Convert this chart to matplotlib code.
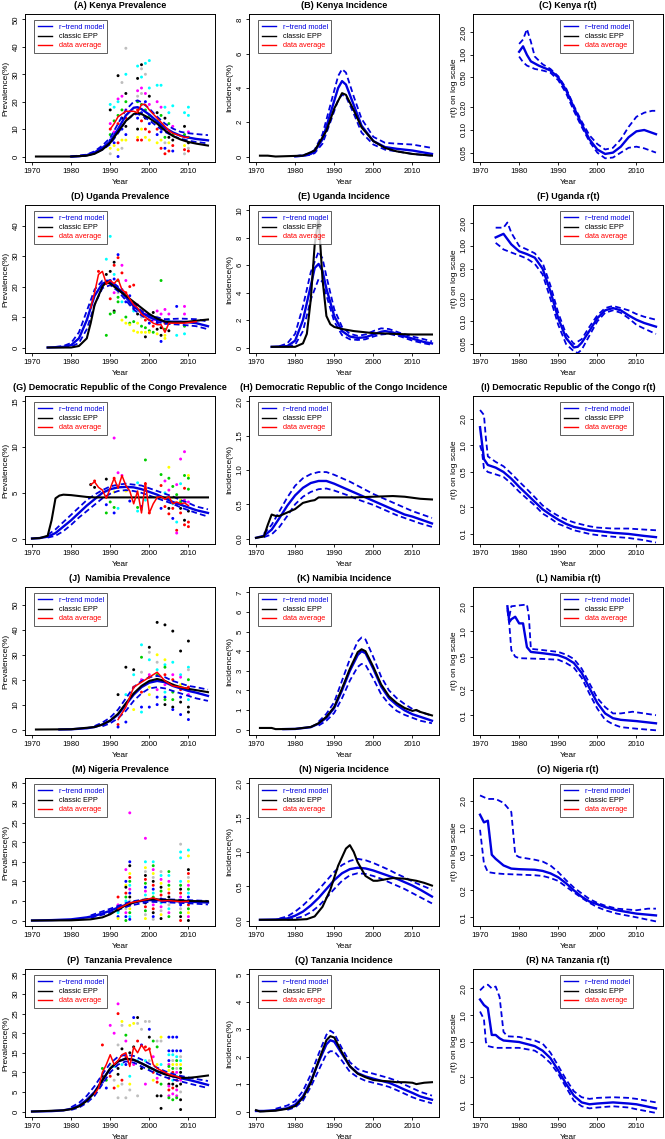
import numpy as np
import matplotlib.pyplot as plt
from matplotlib.lines import Line2D

plt.rcParams['font.family'] = ['Liberation Sans', 'DejaVu Sans']

# ---------------- Kenya ----------------
ken_prev_mean = [(1980,0.0),(1982,0.1),(1984,0.5),(1986,1.5),(1988,3.2),(1990,5.5),(1992,10),(1994,15),(1996,17.8),(1997,18),(1998,17.3),(2000,15.3),(2002,12.8),(2004,10.5),(2006,8.8),(2008,7.6),(2010,6.9),(2012,6.4),(2015,5.9)]
ken_prev_hi = [(1980,0.0),(1984,0.7),(1986,1.9),(1988,4.0),(1990,6.8),(1992,12),(1994,17),(1996,20),(1997,20.5),(1998,19.8),(2000,17.5),(2002,14.5),(2004,12),(2006,10.2),(2008,9.0),(2010,8.5),(2012,8.2),(2015,7.8)]
ken_prev_lo = [(1980,0.0),(1984,0.3),(1986,1.1),(1988,2.5),(1990,4.5),(1992,8.5),(1994,13),(1996,15.3),(1997,15.5),(1998,15),(2000,13.2),(2002,11),(2004,9),(2006,7.5),(2008,6.5),(2010,5.8),(2012,5.3),(2015,4.8)]
ken_prev_epp = [(1971,0),(1980,0),(1984,0.3),(1986,1.0),(1988,2.5),(1990,5),(1992,9),(1994,13),(1996,15.5),(1997,16),(1998,15.5),(2000,14),(2002,12),(2004,9.5),(2006,7.5),(2008,6.2),(2010,5.3),(2012,4.7),(2015,4.0)]
ken_prev_avg = [(1990,10),(1991,12),(1992,14.5),(1993,15.5),(1994,16.5),(1995,16.5),(1996,16.5),(1997,16),(1998,19),(1999,19),(2000,17),(2001,15.5),(2002,14),(2003,12.5),(2004,11),(2005,9.5),(2006,8.5),(2007,8),(2008,7.5),(2009,7),(2010,7)]
ken_pts = [(1990,19,'c'),(1990,17,'k'),(1990,12,'m'),(1990,10,'r'),(1990,8,'g'),(1990,6,'b'),(1990,3,'y'),(1990,1,'a'),
           (1991,18,'c'),(1991,13,'g'),(1991,9,'m'),(1991,5,'b'),(1991,4,'y'),
           (1992,29.5,'k'),(1992,21,'m'),(1992,20,'c'),(1992,15,'g'),(1992,12,'r'),(1992,9,'a'),(1992,5,'r'),(1992,2.5,'y'),(1992,0,'b'),
           (1993,27,'a'),(1993,22,'m'),(1993,17,'g'),(1993,14,'k'),(1993,10,'b'),(1993,6,'y'),(1993,3,'a'),
           (1994,39.5,'a'),(1994,30,'c'),(1994,23,'k'),(1994,20,'g'),(1994,17,'m'),(1994,14,'r'),(1994,11,'k'),(1994,8,'b'),(1994,6,'y'),
           (1997,33,'c'),(1997,28.5,'k'),(1997,24,'m'),(1997,22,'a'),(1997,20,'g'),(1997,17,'r'),(1997,14,'b'),(1997,10,'k'),(1997,7,'y'),(1997,6,'r'),
           (1998,33.5,'k'),(1998,32,'a'),(1998,29,'c'),(1998,25,'m'),(1998,23,'a'),(1998,19,'g'),(1998,16,'b'),(1998,13,'r'),(1998,10,'y'),(1998,6,'r'),
           (1999,34,'c'),(1999,30,'a'),(1999,23,'m'),(1999,20,'b'),(1999,17,'g'),(1999,14,'k'),(1999,10,'r'),(1999,7,'y'),
           (2000,35,'c'),(2000,25,'c'),(2000,22,'k'),(2000,19,'m'),(2000,15,'g'),(2000,12,'b'),(2000,9,'r'),(2000,6,'y'),
           (2002,26,'c'),(2002,20,'m'),(2002,16,'k'),(2002,13,'g'),(2002,10,'r'),(2002,8,'b'),(2002,5,'y'),
           (2003,26,'c'),(2003,18,'m'),(2003,15,'g'),(2003,11,'a'),(2003,9,'b'),(2003,6,'y'),(2003,3,'r'),
           (2004,18,'c'),(2004,14,'k'),(2004,10,'m'),(2004,7,'g'),(2004,5,'a'),(2004,3,'b'),(2004,1,'r'),
           (2005,16,'c'),(2005,12,'g'),(2005,9,'m'),(2005,7,'k'),(2005,5,'y'),(2005,2,'r'),
           (2006,18.5,'c'),(2006,11,'m'),(2006,8,'g'),(2006,6,'k'),(2006,4,'r'),(2006,2,'b'),
           (2009,16,'c'),(2009,11,'k'),(2009,8,'g'),(2009,6,'m'),(2009,4,'y'),(2009,2.5,'r'),(2009,1,'a'),
           (2010,18,'c'),(2010,15,'c'),(2010,9,'m'),(2010,7,'g'),(2010,5,'k'),(2010,3,'a'),(2010,2,'r')]
ken_inc_mean = [(1980,0.01),(1982,0.05),(1984,0.15),(1985,0.3),(1987,1.0),(1989,2.5),(1991,4.0),(1992,4.4),(1993,4.2),(1995,3.0),(1997,1.8),(2000,0.9),(2003,0.55),(2006,0.45),(2010,0.35),(2015,0.15)]
ken_inc_hi = [(1980,0.02),(1982,0.08),(1984,0.2),(1985,0.4),(1987,1.3),(1989,3.0),(1991,4.7),(1992,5.1),(1993,4.9),(1995,3.5),(1997,2.2),(2000,1.15),(2003,0.8),(2006,0.75),(2010,0.7),(2015,0.5)]
ken_inc_lo = [(1980,0.01),(1982,0.03),(1984,0.1),(1985,0.2),(1987,0.75),(1989,2.0),(1991,3.3),(1992,3.6),(1993,3.5),(1995,2.5),(1997,1.4),(2000,0.7),(2003,0.4),(2006,0.3),(2010,0.15),(2015,0.05)]
ken_inc_epp = [(1971,0.05),(1973,0.05),(1975,0.0),(1982,0.05),(1985,0.35),(1988,1.5),(1990,2.8),(1992,3.7),(1993,3.6),(1995,2.7),(1997,1.7),(2000,0.9),(2003,0.5),(2006,0.3),(2010,0.15),(2015,0.05)]
ken_rt_mean = [(1980,1.1),(1981,1.3),(1982,1.0),(1983,0.82),(1985,0.72),(1988,0.62),(1990,0.50),(1992,0.34),(1994,0.2),(1996,0.12),(1998,0.075),(2000,0.055),(2002,0.048),(2004,0.05),(2006,0.06),(2008,0.08),(2010,0.096),(2012,0.1),(2015,0.088)]
ken_rt_hi = [(1980,1.4),(1981,1.6),(1982,2.2),(1983,1.5),(1984,0.95),(1986,0.75),(1988,0.65),(1990,0.52),(1992,0.36),(1994,0.21),(1996,0.13),(1998,0.085),(2000,0.065),(2002,0.055),(2004,0.058),(2006,0.075),(2008,0.11),(2010,0.15),(2012,0.17),(2014,0.18),(2015,0.18)]
ken_rt_lo = [(1980,0.95),(1981,0.8),(1982,0.72),(1984,0.65),(1986,0.62),(1988,0.58),(1990,0.46),(1992,0.31),(1994,0.18),(1996,0.11),(1998,0.07),(2000,0.05),(2002,0.042),(2004,0.043),(2006,0.05),(2008,0.058),(2010,0.06),(2012,0.057),(2015,0.05)]

# ---------------- Uganda ----------------
uga_prev_mean = [(1974,0),(1978,0.2),(1980,0.8),(1982,3),(1984,9),(1985,13),(1986,17),(1988,21),(1989,21.5),(1990,21.5),(1992,19.5),(1994,16.5),(1996,13.5),(1998,11.5),(2000,10),(2002,9),(2004,8.5),(2006,8.5),(2008,8.5),(2010,8.3),(2012,8),(2015,7)]
uga_prev_hi = [(1976,0.2),(1978,0.5),(1980,1.5),(1982,5),(1984,12),(1986,19),(1988,22),(1990,22),(1992,20),(1994,17),(1996,14.5),(1998,12),(2000,10.5),(2004,9.3),(2008,9.5),(2012,9.3),(2015,8.5)]
uga_prev_lo = [(1978,0.1),(1980,0.3),(1982,1.5),(1984,6),(1986,14),(1988,19.5),(1990,20.5),(1992,18.5),(1994,15.5),(1996,12.5),(1998,10.5),(2000,9),(2004,7.8),(2008,7.5),(2012,7),(2015,6)]
uga_prev_epp = [(1974,0),(1980,0),(1982,0.5),(1984,3),(1985,8),(1986,14),(1988,20),(1989,21.5),(1990,21),(1992,19),(1994,17),(1996,15),(1998,13),(2000,11),(2002,9.5),(2004,8.5),(2006,8.3),(2008,8.3),(2010,8.5),(2012,8.8),(2015,9.2)]
uga_prev_avg = [(1985,13),(1986,18),(1987,24),(1988,25),(1989,21),(1990,22),(1991,21),(1992,22.5),(1993,19),(1994,18),(1995,16),(1996,14),(1997,13),(1998,11),(1999,10),(2000,9),(2001,8),(2002,7.5),(2003,7.5),(2004,5),(2005,8),(2007,8),(2009,8),(2012,8.5)]
uga_pts = [(1985,14,'g'),(1987,25,'r'),
           (1989,29,'c'),(1989,24,'k'),(1989,21,'r'),(1989,4,'g'),
           (1990,36.5,'c'),(1990,25,'k'),(1990,22,'b'),(1990,16,'r'),(1990,11,'g'),
           (1991,28,'k'),(1991,27,'r'),(1991,24,'c'),(1991,22.5,'b'),(1991,18,'m'),(1991,12,'k'),(1991,11.5,'g'),
           (1992,30.5,'b'),(1992,29.5,'r'),(1992,22,'g'),(1992,18,'a'),(1992,16.5,'g'),(1992,15,'g'),
           (1993,27,'m'),(1993,24.5,'r'),(1993,19,'b'),(1993,15,'c'),(1993,9,'y'),
           (1994,22,'m'),(1994,18,'r'),(1994,15,'b'),(1994,10,'g'),(1994,8,'y'),
           (1995,20,'r'),(1995,17,'b'),(1995,14,'a'),(1995,8,'g'),(1995,7.5,'y'),
           (1996,20.5,'r'),(1996,13,'b'),(1996,12,'c'),(1996,8.5,'g'),(1996,5.5,'y'),
           (1997,14,'m'),(1997,11,'k'),(1997,8,'y'),(1997,5,'y'),
           (1998,12,'r'),(1998,10,'a'),(1998,7,'g'),(1998,5,'y'),
           (1999,11,'m'),(1999,9,'r'),(1999,6.5,'g'),(1999,5,'y'),(1999,3.5,'k'),
           (2000,10,'m'),(2000,8,'b'),(2000,5.5,'g'),(2000,5,'y'),
           (2001,11.5,'k'),(2001,9,'m'),(2001,7,'r'),(2001,5,'g'),
           (2002,12,'m'),(2002,10,'a'),(2002,8,'b'),(2002,6,'k'),(2002,4.5,'y'),
           (2003,22,'g'),(2003,11,'m'),(2003,9,'r'),(2003,6.5,'k'),(2003,4,'k'),(2003,2,'b'),
           (2004,12.5,'m'),(2004,8,'r'),(2004,6,'g'),(2004,4,'y'),(2004,3,'y'),
           (2005,11,'m'),(2005,9,'c'),(2005,5.5,'k'),
           (2007,13.5,'b'),(2007,8,'m'),(2007,4,'c'),
           (2009,13.5,'m'),(2009,11,'m'),(2009,7,'g'),(2009,4.5,'c')]
uga_inc_mean = [(1974,0.05),(1978,0.1),(1980,0.5),(1982,2),(1984,4.5),(1985,5.8),(1986,6.1),(1987,5.6),(1988,4.3),(1990,2.3),(1992,1.2),(1994,0.8),(1996,0.7),(1998,0.75),(2000,0.95),(2002,1.15),(2003,1.2),(2005,1.1),(2007,0.9),(2010,0.65),(2013,0.4),(2015,0.3)]
uga_inc_hi = [(1976,0.1),(1978,0.3),(1980,1.0),(1982,3.0),(1984,5.5),(1986,7.0),(1987,6.5),(1988,5.2),(1990,2.8),(1992,1.5),(1994,1.0),(1996,0.85),(1998,0.95),(2000,1.2),(2002,1.4),(2004,1.35),(2007,1.05),(2010,0.8),(2013,0.6),(2015,0.45)]
uga_inc_lo = [(1978,0.05),(1980,0.2),(1982,1.2),(1984,3.5),(1986,5.0),(1987,4.8),(1988,3.8),(1990,1.9),(1992,0.9),(1994,0.6),(1996,0.55),(1998,0.6),(2000,0.8),(2002,0.95),(2004,1.0),(2007,0.8),(2010,0.5),(2013,0.3),(2015,0.2)]
uga_inc_epp = [(1974,0.05),(1980,0.05),(1982,0.3),(1983,1.0),(1984,3.5),(1985,7.5),(1986,9.5),(1987,5),(1988,2.3),(1989,1.7),(1990,1.5),(1992,1.35),(1995,1.2),(2000,1.05),(2005,1.0),(2010,0.95),(2015,0.95)]
uga_rt_mean = [(1974,1.3),(1976,1.45),(1978,1.05),(1980,0.85),(1982,0.78),(1984,0.7),(1986,0.5),(1988,0.25),(1990,0.11),(1992,0.06),(1994,0.045),(1995,0.046),(1996,0.052),(1998,0.075),(2000,0.11),(2002,0.14),(2004,0.15),(2006,0.14),(2008,0.12),(2010,0.105),(2012,0.095),(2015,0.085)]
uga_rt_hi = [(1974,1.75),(1976,1.75),(1977,2.05),(1978,1.5),(1980,1.0),(1982,0.9),(1984,0.8),(1986,0.6),(1988,0.3),(1990,0.13),(1992,0.068),(1994,0.05),(1996,0.058),(1998,0.085),(2000,0.12),(2002,0.15),(2004,0.16),(2006,0.15),(2008,0.14),(2010,0.125),(2012,0.115),(2015,0.105)]
uga_rt_lo = [(1974,1.1),(1975,1.0),(1976,0.9),(1978,0.82),(1980,0.75),(1982,0.68),(1984,0.58),(1986,0.42),(1988,0.2),(1990,0.09),(1992,0.05),(1994,0.04),(1995,0.038),(1996,0.042),(1998,0.065),(2000,0.1),(2002,0.13),(2004,0.14),(2006,0.13),(2008,0.11),(2010,0.09),(2012,0.08),(2015,0.068)]

# ---------------- DR Congo ----------------
drc_prev_mean = [(1970,0),(1972,0.05),(1974,0.2),(1976,0.6),(1978,1.3),(1980,2.0),(1982,2.8),(1984,3.6),(1986,4.3),(1988,5.0),(1990,5.4),(1992,5.6),(1994,5.65),(1996,5.6),(1998,5.4),(2000,5.1),(2002,4.8),(2004,4.4),(2006,4.0),(2008,3.7),(2010,3.4),(2012,3.1),(2015,2.8)]
drc_prev_hi = [(1974,0.4),(1976,1.0),(1978,1.8),(1980,2.6),(1982,3.4),(1984,4.2),(1986,4.8),(1988,5.3),(1990,5.7),(1992,5.9),(1994,6.0),(1996,5.9),(1998,5.8),(2000,5.5),(2002,5.2),(2004,4.9),(2006,4.6),(2008,4.2),(2010,3.9),(2012,3.5),(2015,3.2)]
drc_prev_lo = [(1974,0.1),(1976,0.3),(1978,0.8),(1980,1.5),(1982,2.3),(1984,3.0),(1986,3.7),(1988,4.4),(1990,4.9),(1992,5.2),(1994,5.3),(1996,5.2),(1998,5.0),(2000,4.7),(2002,4.4),(2004,4.1),(2006,3.8),(2008,3.4),(2010,3.1),(2012,2.8),(2015,2.4)]
drc_prev_epp = [(1970,0),(1972,0.05),(1974,0.3),(1975,2),(1976,4.4),(1977,4.7),(1978,4.8),(1980,4.75),(1982,4.65),(1984,4.55),(1986,4.5),(1990,4.5),(2015,4.5)]
drc_prev_avg = [(1985,5.9),(1986,6.2),(1987,5.6),(1988,5.3),(1989,4.4),(1990,5.5),(1991,6.6),(1992,5.5),(1993,6.9),(1994,5.8),(1995,5.2),(1996,3.8),(1997,5.2),(1998,2.8),(1999,6.1),(2000,2.8),(2001,3.8),(2002,4.5),(2003,4.6),(2004,4.3),(2005,4.6),(2006,3.8),(2007,4.0),(2008,3.8),(2009,3.9),(2010,3.6)]
drc_pts = [(1985,5.9,'k'),(1986,6.3,'r'),(1986,5.6,'k'),
           (1989,6.5,'k'),(1989,3.7,'b'),(1989,2.8,'g'),(1990,4.0,'g'),
           (1991,11,'m'),(1991,6.6,'r'),(1991,5.1,'y'),(1991,3.4,'g'),(1991,2.8,'b'),
           (1992,7.2,'m'),(1992,3.3,'c'),(1993,6.9,'m'),(1994,5.2,'y'),(1995,4.1,'b'),
           (1997,6.1,'c'),(1997,3.4,'g'),(1997,3.0,'c'),(1998,3.5,'b'),(1998,3.2,'c'),
           (1999,8.6,'g'),(1999,6.0,'r'),(1999,4.2,'c'),(2000,2.8,'r'),
           (2003,7.0,'g'),(2003,5.8,'r'),(2003,3.3,'b'),
           (2004,6.3,'m'),(2004,5.0,'c'),(2004,3.5,'r'),
           (2005,7.8,'y'),(2005,6.6,'g'),(2005,5.3,'m'),(2005,4.5,'c'),(2005,3.3,'k'),(2005,2.7,'r'),
           (2006,5.7,'g'),(2006,4.5,'y'),(2006,3.8,'c'),(2006,3.3,'r'),(2006,2.2,'b'),
           (2007,5.9,'m'),(2007,4.8,'g'),(2007,3.8,'r'),(2007,1.8,'c'),(2007,0.9,'r'),(2007,0.6,'m'),
           (2008,8.7,'m'),(2008,6.0,'c'),(2008,4.2,'y'),(2008,4.0,'g'),(2008,3.3,'k'),(2008,2.8,'r'),
           (2009,9.5,'m'),(2009,6.9,'g'),(2009,5.5,'r'),(2009,4.2,'m'),(2009,2.0,'k'),(2009,1.5,'r'),
           (2010,6.9,'y'),(2010,6.6,'g'),(2010,5.4,'g'),(2010,4.0,'m'),(2010,3.0,'k'),(2010,1.8,'r'),(2010,1.3,'r')]
drc_inc_mean = [(1970,0.01),(1972,0.04),(1974,0.13),(1976,0.3),(1978,0.48),(1980,0.63),(1982,0.74),(1984,0.81),(1986,0.84),(1988,0.84),(1990,0.8),(1992,0.75),(1994,0.7),(1996,0.65),(1998,0.6),(2000,0.55),(2002,0.5),(2004,0.45),(2006,0.4),(2008,0.35),(2010,0.32),(2012,0.28),(2015,0.22)]
drc_inc_hi = [(1972,0.07),(1974,0.2),(1976,0.4),(1978,0.6),(1980,0.77),(1982,0.88),(1984,0.94),(1986,0.97),(1988,0.97),(1990,0.93),(1992,0.88),(1994,0.83),(1996,0.77),(1998,0.71),(2000,0.65),(2002,0.6),(2004,0.55),(2006,0.5),(2008,0.45),(2010,0.4),(2012,0.36),(2015,0.3)]
drc_inc_lo = [(1972,0.02),(1974,0.06),(1976,0.17),(1978,0.33),(1980,0.5),(1982,0.61),(1984,0.68),(1986,0.72),(1988,0.73),(1990,0.7),(1992,0.66),(1994,0.62),(1996,0.57),(1998,0.53),(2000,0.49),(2002,0.44),(2004,0.39),(2006,0.34),(2008,0.3),(2010,0.26),(2012,0.22),(2015,0.17)]
drc_inc_epp = [(1970,0.01),(1972,0.03),(1973,0.2),(1974,0.35),(1975,0.33),(1976,0.33),(1978,0.38),(1980,0.43),(1982,0.52),(1984,0.55),(1985,0.56),(1986,0.6),(1988,0.6),(1995,0.6),(2000,0.61),(2005,0.62),(2008,0.61),(2012,0.58),(2015,0.57)]
drc_rt_mean = [(1970,1.6),(1971,0.7),(1972,0.6),(1974,0.56),(1976,0.5),(1978,0.42),(1980,0.34),(1982,0.28),(1984,0.23),(1986,0.19),(1988,0.165),(1990,0.145),(1992,0.13),(1994,0.12),(1996,0.115),(1998,0.11),(2000,0.108),(2004,0.103),(2008,0.1),(2012,0.095),(2015,0.092)]
drc_rt_hi = [(1970,2.5),(1971,2.2),(1971.5,1.2),(1972,0.75),(1974,0.65),(1976,0.58),(1978,0.48),(1980,0.39),(1982,0.32),(1984,0.26),(1986,0.21),(1988,0.18),(1990,0.16),(1992,0.145),(1994,0.135),(1996,0.128),(1998,0.122),(2000,0.118),(2004,0.115),(2008,0.115),(2012,0.112),(2015,0.11)]
drc_rt_lo = [(1970,1.0),(1970.5,0.85),(1971,0.55),(1972,0.5),(1974,0.47),(1976,0.44),(1978,0.37),(1980,0.3),(1982,0.25),(1984,0.21),(1986,0.17),(1988,0.15),(1990,0.13),(1992,0.12),(1994,0.11),(1996,0.105),(1998,0.1),(2000,0.097),(2004,0.093),(2008,0.09),(2012,0.085),(2015,0.08)]

# ---------------- Namibia ----------------
nam_prev_mean = [(1977,0),(1980,0.1),(1984,0.5),(1986,1.0),(1988,2.0),(1990,3.5),(1992,6),(1994,10),(1996,14),(1998,17),(2000,18.8),(2002,19.5),(2004,19),(2006,17.5),(2008,16.5),(2010,15.5),(2012,14.8),(2015,13.5)]
nam_prev_hi = [(1986,1.4),(1988,2.8),(1990,4.8),(1992,8),(1994,12.5),(1996,17),(1998,19.5),(2000,21),(2002,21.5),(2004,21),(2006,19.5),(2008,18.5),(2010,17.5),(2012,17),(2015,16)]
nam_prev_lo = [(1988,1.3),(1990,2.5),(1992,4.5),(1994,7.5),(1996,11.5),(1998,14.5),(2000,16.5),(2002,17),(2004,16.5),(2006,15.5),(2008,14.5),(2010,13.5),(2012,12.5),(2015,11.5)]
nam_prev_epp = [(1971,0),(1980,0.1),(1986,1.0),(1988,2.0),(1990,3.6),(1992,6.3),(1994,10.5),(1996,14.5),(1998,17.5),(2000,19.5),(2002,20.3),(2004,19.5),(2006,18),(2008,17),(2010,16.3),(2012,15.8),(2015,15)]
nam_prev_avg = [(1992,4),(1994,9),(1996,17),(1998,19),(2000,21),(2002,23),(2004,19.5),(2006,17.5),(2008,17.0),(2010,16.5)]
nam_pts = [(1992,14,'k'),(1992,2,'r'),(1992,1,'b'),
           (1994,25,'k'),(1994,14,'c'),(1994,3,'b'),
           (1996,24,'k'),(1996,22,'c'),(1996,17,'r'),(1996,8,'y'),
           (1998,34,'c'),(1998,29,'g'),(1998,23,'a'),(1998,20,'m'),(1998,15,'r'),(1998,9,'b'),(1998,7,'c'),
           (2000,33,'k'),(2000,31,'a'),(2000,28,'c'),(2000,22,'m'),(2000,21,'r'),(2000,17,'y'),(2000,14,'y'),(2000,9,'b'),
           (2002,43,'k'),(2002,30,'y'),(2002,27,'a'),(2002,24,'c'),(2002,22,'g'),(2002,20,'r'),(2002,16,'m'),(2002,13,'b'),(2002,10,'b'),
           (2004,42,'k'),(2004,28,'y'),(2004,26,'c'),(2004,25,'g'),(2004,22,'r'),(2004,18,'m'),(2004,15,'c'),(2004,13,'b'),(2004,12,'g'),(2004,10,'k'),
           (2006,39.5,'k'),(2006,27,'c'),(2006,22,'m'),(2006,20,'r'),(2006,18,'a'),(2006,15,'g'),(2006,12,'g'),(2006,9,'k'),(2006,8,'b'),
           (2008,31.5,'k'),(2008,22,'c'),(2008,21,'m'),(2008,18,'y'),(2008,16,'r'),(2008,13,'b'),(2008,11,'k'),(2008,6,'b'),
           (2010,35.5,'k'),(2010,25,'c'),(2010,24,'a'),(2010,20,'g'),(2010,17,'r'),(2010,14,'m'),(2010,12,'c'),(2010,9,'k'),(2010,7,'k'),(2010,4,'b')]
nam_inc_mean = [(1977,0.02),(1980,0.03),(1984,0.12),(1986,0.3),(1988,0.6),(1990,1.1),(1992,2.0),(1994,3.0),(1996,3.8),(1997,4.0),(1998,3.9),(2000,3.1),(2002,2.2),(2004,1.6),(2006,1.25),(2008,0.98),(2010,0.78),(2012,0.65),(2015,0.45)]
nam_inc_hi = [(1986,0.4),(1988,0.8),(1990,1.4),(1992,2.5),(1994,3.6),(1996,4.5),(1997,4.7),(1998,4.6),(2000,3.7),(2002,2.7),(2004,2.0),(2006,1.6),(2008,1.3),(2010,1.05),(2012,0.9),(2015,0.7)]
nam_inc_lo = [(1986,0.2),(1988,0.45),(1990,0.85),(1992,1.6),(1994,2.5),(1996,3.2),(1997,3.35),(1998,3.3),(2000,2.6),(2002,1.8),(2004,1.3),(2006,0.95),(2008,0.75),(2010,0.6),(2012,0.45),(2015,0.32)]
nam_inc_epp = [(1971,0.08),(1974,0.08),(1975,0.02),(1980,0.03),(1984,0.13),(1986,0.32),(1988,0.65),(1990,1.15),(1992,2.1),(1994,3.1),(1996,3.95),(1997,4.1),(1998,4.0),(2000,3.2),(2002,2.3),(2004,1.7),(2006,1.35),(2008,1.1),(2010,0.95),(2011,1.0),(2012,0.9),(2015,0.72)]
nam_rt_mean = [(1977,2.0),(1977.5,1.3),(1978,1.4),(1979,1.5),(1980,1.25),(1981,1.25),(1982,0.65),(1983,0.57),(1986,0.55),(1990,0.52),(1992,0.48),(1994,0.42),(1996,0.32),(1998,0.21),(2000,0.14),(2002,0.105),(2004,0.092),(2006,0.088),(2010,0.085),(2015,0.08)]
nam_rt_hi = [(1977,1.9),(1977.5,1.5),(1978,2.0),(1980,2.05),(1982,2.1),(1982.5,1.5),(1983,0.62),(1986,0.6),(1990,0.57),(1992,0.53),(1994,0.47),(1996,0.36),(1998,0.24),(2000,0.16),(2002,0.125),(2004,0.105),(2006,0.105),(2009,0.11),(2012,0.105),(2015,0.1)]
nam_rt_lo = [(1977,1.8),(1977.5,1.2),(1978,0.6),(1979,0.5),(1980,0.48),(1986,0.47),(1990,0.46),(1992,0.42),(1994,0.37),(1996,0.28),(1998,0.18),(2000,0.12),(2002,0.088),(2004,0.078),(2006,0.072),(2010,0.069),(2015,0.066)]

# ---------------- Nigeria ----------------
nga_prev_mean = [(1970,0),(1975,0.1),(1980,0.3),(1984,0.8),(1986,1.2),(1988,1.8),(1990,2.5),(1992,3.3),(1994,4.0),(1996,4.6),(1998,5.0),(2000,5.2),(2002,5.2),(2005,5.0),(2010,4.8),(2015,4.6)]
nga_prev_hi = [(1985,1.3),(1990,3.0),(1995,4.8),(2000,5.6),(2005,5.4),(2010,5.2),(2015,5.0)]
nga_prev_lo = [(1985,0.7),(1990,2.0),(1995,3.8),(2000,4.8),(2005,4.6),(2010,4.4),(2015,4.1)]
nga_prev_epp = [(1970,0),(1980,0.05),(1985,0.3),(1988,0.8),(1990,1.6),(1992,2.8),(1994,3.9),(1996,4.6),(1998,5.1),(2000,5.4),(2002,5.4),(2005,5.2),(2010,5.0),(2015,4.9)]
nga_prev_avg = [(1992,3),(1994,4),(1995,4.5),(1999,5.3),(2001,5.8),(2003,5.0),(2005,5.1),(2008,4.8),(2010,4.9)]
nga_pts = [(1992,6,'r'),(1992,4,'m'),(1992,3.5,'m'),(1992,3,'g'),(1992,2.5,'k'),(1992,2,'c'),(1992,1,'b'),(1992,0.5,'y'),
           (1994,13,'m'),(1994,10,'b'),(1994,9,'y'),(1994,8.5,'k'),(1994,7,'r'),(1994,6,'g'),(1994,5,'c'),(1994,4,'y'),(1994,3,'a'),(1994,2,'m'),(1994,1,'b'),(1994,0,'g'),
           (1995,27.5,'m'),(1995,15,'b'),(1995,14,'k'),(1995,12,'y'),(1995,11,'r'),(1995,10,'g'),(1995,9,'c'),(1995,8,'m'),(1995,7,'b'),(1995,6,'k'),(1995,5,'a'),(1995,4,'r'),(1995,3,'y'),(1995,2,'g'),(1995,1,'c'),(1995,0.3,'b'),
           (1999,21,'m'),(1999,15,'c'),(1999,13.5,'y'),(1999,12.5,'a'),(1999,11.5,'k'),(1999,10.5,'r'),(1999,9.5,'g'),(1999,8.5,'b'),(1999,7.5,'m'),(1999,6.5,'c'),(1999,5.5,'y'),(1999,4.5,'k'),(1999,3.5,'r'),(1999,2.5,'g'),(1999,1.5,'a'),(1999,0.5,'y'),
           (2001,15,'c'),(2001,14,'g'),(2001,13,'m'),(2001,12,'y'),(2001,11,'a'),(2001,10,'k'),(2001,9,'r'),(2001,8,'b'),(2001,7,'c'),(2001,6,'g'),(2001,5,'y'),(2001,4,'m'),(2001,3,'r'),(2001,2,'k'),(2001,1,'b'),(2001,0.3,'a'),
           (2003,12.5,'a'),(2003,11.5,'c'),(2003,10.5,'m'),(2003,9.5,'y'),(2003,8.5,'k'),(2003,7.5,'g'),(2003,6.5,'r'),(2003,5.5,'b'),(2003,4.5,'c'),(2003,3.5,'m'),(2003,2.5,'a'),(2003,1.5,'y'),(2003,0.5,'k'),
           (2005,12.5,'g'),(2005,11.5,'c'),(2005,10,'m'),(2005,9,'g'),(2005,8,'y'),(2005,7,'r'),(2005,6,'k'),(2005,5,'b'),(2005,4,'a'),(2005,3,'c'),(2005,2,'m'),(2005,1,'g'),
           (2008,19.5,'a'),(2008,17.5,'c'),(2008,16,'c'),(2008,10,'c'),(2008,9,'g'),(2008,8,'k'),(2008,7,'r'),(2008,6,'m'),(2008,5,'y'),(2008,4,'b'),(2008,3,'a'),(2008,2,'g'),(2008,1,'k'),(2008,0,'r'),
           (2010,18,'c'),(2010,16.5,'y'),(2010,13,'k'),(2010,12,'r'),(2010,11,'a'),(2010,10,'y'),(2010,9,'m'),(2010,8,'g'),(2010,7,'c'),(2010,6,'b'),(2010,5,'k'),(2010,4,'r'),(2010,3,'g'),(2010,2,'y'),(2010,1,'m'),(2010,0,'k')]
nga_inc_mean = [(1971,0.01),(1975,0.015),(1978,0.03),(1980,0.07),(1982,0.13),(1984,0.22),(1986,0.33),(1988,0.46),(1990,0.59),(1992,0.69),(1994,0.75),(1996,0.77),(1998,0.76),(2000,0.73),(2002,0.69),(2004,0.65),(2006,0.61),(2008,0.56),(2010,0.51),(2012,0.45),(2015,0.35)]
nga_inc_hi = [(1976,0.03),(1978,0.06),(1980,0.13),(1982,0.22),(1984,0.33),(1986,0.45),(1988,0.58),(1990,0.71),(1992,0.81),(1994,0.87),(1996,0.9),(1998,0.88),(2000,0.84),(2002,0.79),(2004,0.74),(2006,0.68),(2008,0.63),(2010,0.57),(2012,0.52),(2015,0.45)]
nga_inc_lo = [(1978,0.01),(1980,0.03),(1982,0.06),(1984,0.12),(1986,0.21),(1988,0.33),(1990,0.46),(1992,0.58),(1994,0.66),(1996,0.69),(1998,0.68),(2000,0.65),(2002,0.61),(2004,0.56),(2006,0.51),(2008,0.46),(2010,0.4),(2012,0.34),(2015,0.25)]
nga_inc_epp = [(1971,0.01),(1980,0.01),(1983,0.02),(1985,0.06),(1987,0.2),(1989,0.45),(1991,0.8),(1993,1.05),(1994,1.1),(1995,1.0),(1996,0.85),(1998,0.65),(2000,0.58),(2001,0.58),(2003,0.6),(2005,0.62),(2008,0.61),(2011,0.58),(2013,0.55),(2015,0.51)]
nga_rt_mean = [(1970,1.4),(1971,1.15),(1972,1.2),(1973,0.5),(1974,0.45),(1976,0.38),(1978,0.35),(1980,0.345),(1984,0.34),(1986,0.33),(1988,0.31),(1990,0.28),(1992,0.24),(1994,0.2),(1996,0.17),(1998,0.15),(2000,0.14),(2002,0.13),(2005,0.12),(2010,0.11),(2015,0.105)]
nga_rt_hi = [(1970,2.3),(1972,2.1),(1974,2.1),(1976,1.9),(1978,1.5),(1979,0.5),(1980,0.47),(1984,0.44),(1986,0.42),(1988,0.38),(1990,0.32),(1992,0.26),(1994,0.215),(1996,0.185),(1998,0.16),(2000,0.145),(2002,0.135),(2005,0.125),(2010,0.12),(2013,0.125),(2015,0.125)]
nga_rt_lo = [(1970,0.95),(1971,0.4),(1972,0.32),(1974,0.31),(1976,0.305),(1980,0.3),(1984,0.295),(1986,0.29),(1988,0.275),(1990,0.255),(1992,0.22),(1994,0.19),(1996,0.165),(1998,0.145),(2000,0.13),(2002,0.12),(2005,0.11),(2010,0.1),(2015,0.09)]

# ---------------- Tanzania ----------------
tza_prev_mean = [(1970,0),(1975,0.1),(1978,0.3),(1980,0.7),(1982,1.5),(1984,3),(1986,5),(1988,8),(1990,11),(1992,12.8),(1994,13.5),(1996,13.2),(1998,12.3),(2000,11.3),(2002,10.3),(2004,9.6),(2006,9.0),(2008,8.5),(2010,8.1),(2012,7.6),(2015,6.8)]
tza_prev_hi = [(1980,1.1),(1982,2.2),(1984,4),(1986,6.5),(1988,9.5),(1990,12.3),(1992,14),(1994,14.5),(1996,14.2),(1998,13.3),(2000,12.2),(2002,11.2),(2004,10.3),(2006,9.6),(2008,9.1),(2010,8.7),(2012,8.3),(2015,7.8)]
tza_prev_lo = [(1980,0.4),(1982,1.0),(1984,2.2),(1986,4),(1988,7),(1990,10),(1992,12),(1994,12.8),(1996,12.5),(1998,11.5),(2000,10.5),(2002,9.6),(2004,8.8),(2006,8.2),(2008,7.7),(2010,7.2),(2012,6.7),(2015,6.0)]
tza_prev_epp = [(1970,0),(1978,0.3),(1980,0.6),(1982,1.3),(1984,2.7),(1986,4.8),(1988,8),(1990,11),(1992,12.8),(1994,13.5),(1996,13.2),(1998,12.3),(2000,11.3),(2002,10.3),(2004,9.5),(2006,9.0),(2008,8.6),(2010,8.6),(2012,8.8),(2015,9.2)]
tza_prev_avg = [(1986,4.5),(1987,6),(1988,10),(1989,12),(1990,14.5),(1991,12),(1992,13),(1993,14.5),(1994,15),(1995,11.5),(1996,16.5),(1997,15),(1998,17),(1999,15.5),(2000,16),(2001,12),(2002,11),(2003,10.5),(2004,10),(2005,9.5),(2006,9.2),(2007,9),(2008,8.5)]
tza_pts = [(1988,17,'r'),(1988,11,'g'),(1988,9,'k'),(1988,7.5,'b'),(1989,8,'g'),(1989,6,'b'),
           (1990,22,'m'),(1990,12,'y'),(1990,9,'r'),(1991,20,'m'),(1991,11.5,'c'),(1991,8,'a'),(1991,6,'r'),
           (1992,27.5,'m'),(1992,25,'r'),(1992,17,'a'),(1992,11,'k'),(1992,9.5,'k'),(1992,6.5,'y'),(1992,3.5,'a'),
           (1993,23,'y'),(1993,22,'a'),(1993,16,'k'),(1993,12,'c'),(1993,8,'r'),(1993,7,'a'),
           (1994,19.5,'g'),(1994,18,'m'),(1994,14,'r'),(1994,12,'b'),(1994,3.5,'a'),
           (1995,22,'y'),(1995,15,'k'),(1995,9,'c'),(1995,7,'y'),(1995,5.5,'a'),
           (1996,24,'b'),(1996,22.5,'y'),(1996,16.5,'k'),(1996,12,'m'),
           (1997,24,'k'),(1997,22.5,'a'),(1997,18,'r'),(1997,13,'c'),(1997,4,'a'),
           (1998,21,'a'),(1998,17,'b'),(1998,11,'k'),
           (1999,23,'a'),(1999,16.5,'r'),(1999,13,'c'),(1999,7,'m'),
           (2000,23,'a'),(2000,21,'b'),(2000,19,'k'),(2000,16,'r'),(2000,13,'a'),(2000,11,'g'),
           (2001,18,'g'),(2001,14,'m'),(2001,10,'r'),(2001,8,'y'),
           (2002,18,'a'),(2002,16.5,'g'),(2002,12,'y'),(2002,10,'c'),(2002,8.5,'m'),(2002,7.5,'r'),(2002,4,'k'),
           (2003,19,'y'),(2003,18,'a'),(2003,12,'c'),(2003,10,'r'),(2003,7,'g'),(2003,4,'k'),(2003,0.8,'k'),
           (2005,19,'b'),(2005,15.5,'b'),(2005,14.5,'c'),(2005,13,'b'),(2005,12,'m'),(2005,11.5,'g'),(2005,10.5,'y'),(2005,9.5,'a'),(2005,8.5,'r'),(2005,7,'k'),(2005,6.5,'m'),(2005,5.5,'r'),(2005,4,'m'),(2005,3.5,'g'),
           (2006,19,'b'),(2006,15.5,'b'),(2006,14.5,'c'),(2006,13,'a'),(2006,12,'y'),(2006,11,'g'),(2006,10,'r'),(2006,9,'m'),(2006,8,'c'),(2006,7,'k'),(2006,6,'r'),(2006,4.5,'m'),(2006,3,'g'),
           (2007,19,'b'),(2007,15.5,'b'),(2007,14,'c'),(2007,13,'g'),(2007,12,'y'),(2007,11,'a'),(2007,10,'m'),(2007,9,'c'),(2007,8,'r'),(2007,6.5,'k'),(2007,5.5,'m'),(2007,4,'m'),(2007,3.5,'g'),
           (2008,15.5,'b'),(2008,14,'a'),(2008,13,'c'),(2008,12,'y'),(2008,11,'g'),(2008,10,'k'),(2008,9,'r'),(2008,8,'m'),(2008,7,'k'),(2008,5,'a'),(2008,3,'k'),(2008,0.5,'k')]
tza_inc_mean = [(1970,0.02),(1972,0.02),(1975,0.05),(1978,0.12),(1980,0.25),(1982,0.55),(1984,1.1),(1986,1.8),(1988,2.45),(1989,2.6),(1990,2.55),(1992,2.1),(1994,1.65),(1996,1.4),(1998,1.28),(2000,1.2),(2002,1.12),(2004,1.05),(2006,0.93),(2008,0.8),(2010,0.68),(2012,0.55),(2015,0.43)]
tza_inc_hi = [(1975,0.1),(1978,0.22),(1980,0.38),(1982,0.75),(1984,1.35),(1986,2.1),(1988,2.8),(1989,2.95),(1990,2.85),(1992,2.3),(1994,1.8),(1996,1.55),(1998,1.45),(2000,1.38),(2002,1.3),(2004,1.22),(2006,1.12),(2008,0.98),(2010,0.85),(2012,0.72),(2015,0.58)]
tza_inc_lo = [(1978,0.06),(1980,0.15),(1982,0.4),(1984,0.9),(1986,1.5),(1988,2.1),(1989,2.2),(1990,2.2),(1992,1.85),(1994,1.45),(1996,1.25),(1998,1.12),(2000,1.05),(2002,0.98),(2004,0.9),(2006,0.78),(2008,0.65),(2010,0.52),(2012,0.42),(2015,0.3)]
tza_inc_epp = [(1970,0.05),(1971,0.0),(1975,0.03),(1978,0.1),(1980,0.2),(1982,0.5),(1984,1.05),(1986,1.85),(1988,2.6),(1989,2.75),(1990,2.7),(1992,2.15),(1994,1.65),(1996,1.38),(1998,1.25),(2000,1.15),(2002,1.12),(2004,1.1),(2006,1.07),(2008,1.07),(2010,1.05),(2011,1.0),(2013,1.05),(2015,1.07)]
tza_rt_mean = [(1970,1.5),(1971,1.3),(1972,1.2),(1973,0.6),(1974,0.6),(1975,0.55),(1976,0.52),(1980,0.5),(1984,0.45),(1986,0.4),(1988,0.33),(1990,0.24),(1992,0.17),(1994,0.125),(1996,0.105),(1998,0.1),(2000,0.102),(2004,0.105),(2008,0.102),(2010,0.1),(2015,0.09)]
tza_rt_hi = [(1970,1.9),(1971,2.1),(1972,2.2),(1973,2.0),(1974,2.1),(1975,1.6),(1976,0.65),(1977,0.58),(1980,0.57),(1984,0.52),(1986,0.48),(1988,0.38),(1990,0.27),(1992,0.19),(1994,0.14),(1996,0.12),(1998,0.115),(2000,0.118),(2004,0.12),(2008,0.118),(2010,0.115),(2015,0.105)]
tza_rt_lo = [(1970,1.1),(1971,0.9),(1971.5,0.5),(1972,0.45),(1974,0.43),(1976,0.43),(1980,0.43),(1984,0.4),(1986,0.35),(1988,0.29),(1990,0.22),(1992,0.155),(1994,0.11),(1996,0.095),(1998,0.09),(2000,0.092),(2004,0.095),(2008,0.092),(2010,0.088),(2015,0.08)]

# panel titles / axis ranges
prev_titles = ['(A) Kenya Prevalence', '(D) Uganda Prevalence', '(G) Democratic Republic of the Congo Prevalence',
               '(J)  Namibia Prevalence', '(M) Nigeria Prevalence', '(P)  Tanzania Prevalence']
inc_titles = ['(B) Kenya Incidence', '(E) Uganda Incidence', '(H) Democratic Republic of the Congo Incidence',
              '(K) Namibia Incidence', '(N) Nigeria Incidence', '(Q) Tanzania Incidence']
rt_titles = ['(C) Kenya r(t)', '(F) Uganda r(t)', '(I) Democratic Republic of the Congo r(t)',
             '(L) Namibia r(t)', '(O) Nigeria r(t)', '(R) NA Tanzania r(t)']
prev_ymax = [50, 45, 15, 55, 35, 35]
prev_ticks = [np.arange(0, 51, 10), np.arange(0, 41, 10), np.arange(0, 16, 5),
              np.arange(0, 51, 10), np.arange(0, 36, 5), np.arange(0, 36, 5)]
inc_ymax = [8, 10, 2, 7, 2, 5]
inc_ticks = [np.arange(0, 9, 2), np.arange(0, 11, 2), np.arange(0, 2.01, 0.5),
             np.arange(0, 8, 1), np.arange(0, 2.01, 0.5), np.arange(0, 6, 1)]
rt_ylim = [(0.0375, 3.5), (0.038, 3.5), (0.077, 3.6), (0.058, 3.4), (0.08, 3.6), (0.072, 3.3)]

prev_sets = [(ken_prev_mean, ken_prev_hi, ken_prev_lo, ken_prev_epp, ken_prev_avg, ken_pts),
             (uga_prev_mean, uga_prev_hi, uga_prev_lo, uga_prev_epp, uga_prev_avg, uga_pts),
             (drc_prev_mean, drc_prev_hi, drc_prev_lo, drc_prev_epp, drc_prev_avg, drc_pts),
             (nam_prev_mean, nam_prev_hi, nam_prev_lo, nam_prev_epp, nam_prev_avg, nam_pts),
             (nga_prev_mean, nga_prev_hi, nga_prev_lo, nga_prev_epp, nga_prev_avg, nga_pts),
             (tza_prev_mean, tza_prev_hi, tza_prev_lo, tza_prev_epp, tza_prev_avg, tza_pts)]
inc_sets = [(ken_inc_mean, ken_inc_hi, ken_inc_lo, ken_inc_epp),
            (uga_inc_mean, uga_inc_hi, uga_inc_lo, uga_inc_epp),
            (drc_inc_mean, drc_inc_hi, drc_inc_lo, drc_inc_epp),
            (nam_inc_mean, nam_inc_hi, nam_inc_lo, nam_inc_epp),
            (nga_inc_mean, nga_inc_hi, nga_inc_lo, nga_inc_epp),
            (tza_inc_mean, tza_inc_hi, tza_inc_lo, tza_inc_epp)]
rt_sets = [(ken_rt_mean, ken_rt_hi, ken_rt_lo), (uga_rt_mean, uga_rt_hi, uga_rt_lo),
           (drc_rt_mean, drc_rt_hi, drc_rt_lo), (nam_rt_mean, nam_rt_hi, nam_rt_lo),
           (nga_rt_mean, nga_rt_hi, nga_rt_lo), (tza_rt_mean, tza_rt_hi, tza_rt_lo)]

pt_colors = {'k': 'black', 'r': 'red', 'g': '#00CD00', 'b': 'blue', 'c': 'cyan',
             'm': 'magenta', 'y': 'yellow', 'a': '#BEBEBE'}
BLUE = '#0000E0'


def xy(pairs):
    a = np.array(pairs, dtype=float)
    return a[:, 0], a[:, 1]


def style(ax, title, ylabel):
    ax.set_xlim(1968.2, 2016.8)
    ax.set_xticks([1970, 1980, 1990, 2000, 2010])
    ax.set_title(title, fontsize=6.5, fontweight='bold', pad=4)
    ax.set_xlabel('Year', fontsize=6, labelpad=3)
    ax.set_ylabel(ylabel, fontsize=6, labelpad=2)
    ax.tick_params(labelsize=5.6, length=2.5, width=0.6, pad=1.5)
    for lab in ax.get_yticklabels():
        lab.set_rotation(90)
        lab.set_va('center')
    for s in ax.spines.values():
        s.set_linewidth(0.7)


def legend(ax, left):
    handles = [Line2D([], [], color=BLUE, lw=1),
               Line2D([], [], color='black', lw=1),
               Line2D([], [], color='red', lw=1)]
    if left:
        kw = dict(loc='upper left', bbox_to_anchor=(0.03, 0.985))
    else:
        kw = dict(loc='upper left', bbox_to_anchor=(0.44, 0.985))
    lg = ax.legend(handles, ['r\u2212trend model', 'classic EPP', 'data average'],
                   fontsize=5.3, frameon=True, fancybox=False, handlelength=1.9,
                   handletextpad=0.9, labelspacing=0.3, borderpad=0.5, **kw)
    lg.get_frame().set_edgecolor('#333333')
    lg.get_frame().set_linewidth(0.7)
    for t, c in zip(lg.get_texts(), [BLUE, 'black', 'red']):
        t.set_color(c)


def band(ax, mean, hi, lo):
    for s in (hi, lo):
        x, y = xy(s)
        ax.plot(x, y, color=BLUE, lw=1.3, dashes=(3.2, 1.8))
    x, y = xy(mean)
    ax.plot(x, y, color=BLUE, lw=1.7)


W, H = 665, 1139
fig = plt.figure(figsize=(W / 100, H / 100), dpi=100)
col_left = [25, 249, 473]
aw, ah = 190, 148

for i in range(6):
    top = 14 + 191 * i
    axs = [fig.add_axes([l / W, 1 - (top + ah) / H, aw / W, ah / H]) for l in col_left]

    # prevalence
    ax = axs[0]
    mean, hi, lo, epp, avg, pts = prev_sets[i]
    px = [p[0] for p in pts]
    py = [p[1] for p in pts]
    pc = [pt_colors[p[2]] for p in pts]
    ax.scatter(px, py, c=pc, s=4.5, marker='o', linewidths=0, zorder=1)
    band(ax, mean, hi, lo)
    x, y = xy(epp)
    ax.plot(x, y, color='black', lw=1.5)
    x, y = xy(avg)
    ax.plot(x, y, color='red', lw=1.1)
    ax.set_ylim(-0.04 * prev_ymax[i], 1.04 * prev_ymax[i])
    ax.set_yticks(prev_ticks[i])
    ax.set_yticklabels([f'{v:g}' for v in prev_ticks[i]])
    style(ax, prev_titles[i], 'Prevalence(%)')
    legend(ax, True)

    # incidence
    ax = axs[1]
    mean, hi, lo, epp = inc_sets[i]
    band(ax, mean, hi, lo)
    x, y = xy(epp)
    ax.plot(x, y, color='black', lw=1.5)
    ax.set_ylim(-0.04 * inc_ymax[i], 1.04 * inc_ymax[i])
    ax.set_yticks(inc_ticks[i])
    if inc_ymax[i] == 2:
        ax.set_yticklabels([f'{v:.1f}' for v in inc_ticks[i]])
    else:
        ax.set_yticklabels([f'{v:g}' for v in inc_ticks[i]])
    style(ax, inc_titles[i], 'Incidence(%)')
    legend(ax, True)

    # r(t)
    ax = axs[2]
    mean, hi, lo = rt_sets[i]
    band(ax, mean, hi, lo)
    ax.set_yscale('log')
    ax.set_ylim(*rt_ylim[i])
    if i < 2:
        rt = [0.05, 0.1, 0.2, 0.5, 1.0, 2.0]
        ax.set_yticks(rt)
        ax.set_yticklabels([f'{v:.2f}' for v in rt])
    else:
        rt = [0.1, 0.2, 0.5, 1.0, 2.0]
        ax.set_yticks(rt)
        ax.set_yticklabels([f'{v:.1f}' for v in rt])
    ax.yaxis.set_minor_locator(plt.NullLocator())
    style(ax, rt_titles[i], 'r(t) on log scale')
    legend(ax, False)

fig.savefig('out.png', dpi=100)
